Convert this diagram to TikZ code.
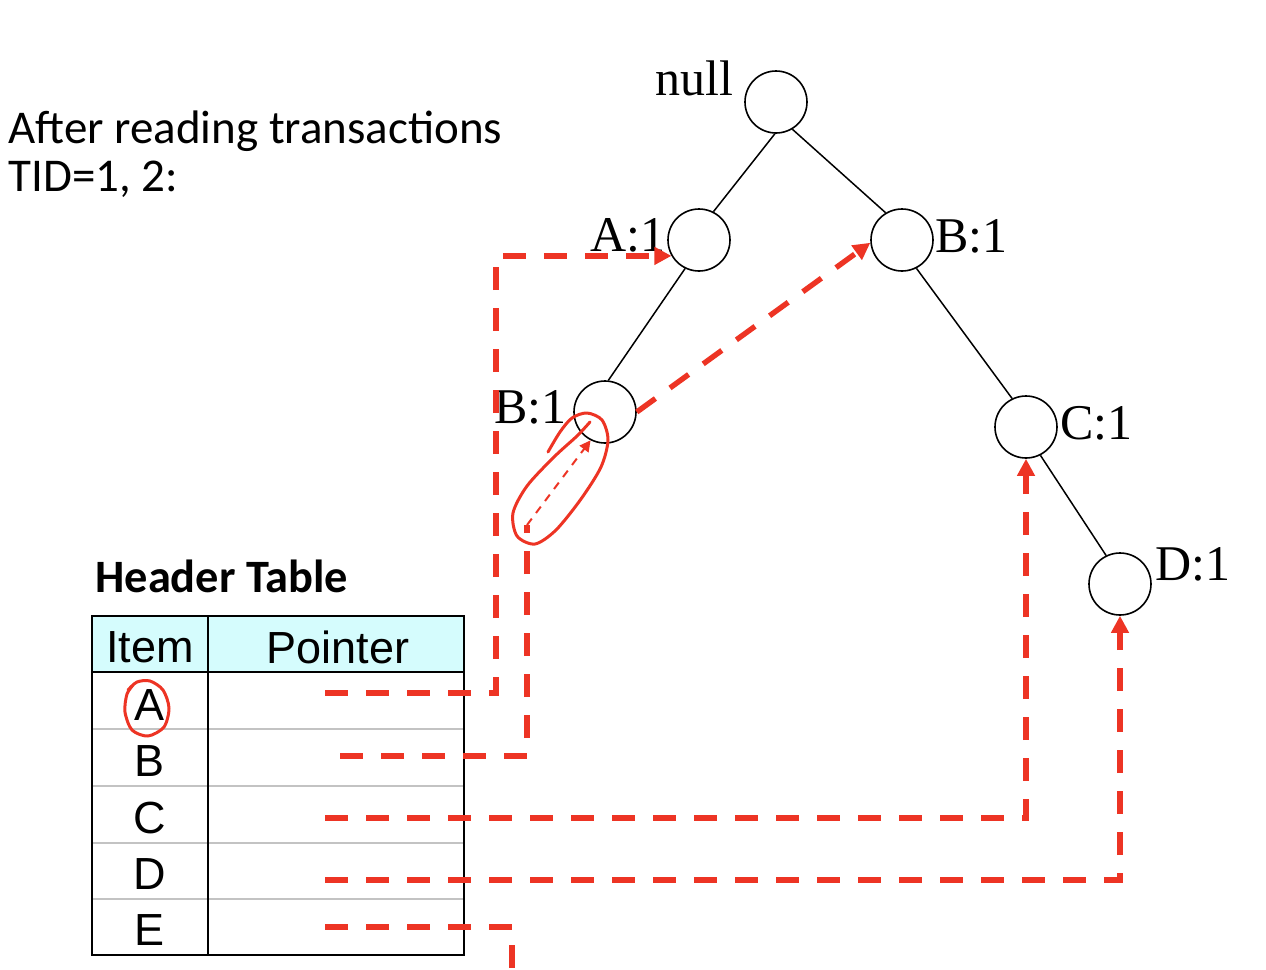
\documentclass[tikz,border=0pt]{standalone}
\usepackage{fontspec}
\setmainfont{Liberation Serif}
\newfontfamily\calibri{Carlito}
\newfontfamily\arialf{Liberation Sans}
\usetikzlibrary{arrows.meta}
\definecolor{ptrred}{RGB}{237,52,36}
\definecolor{hdrcyan}{RGB}{213,252,253}
\definecolor{rowgray}{RGB}{195,195,195}
\begin{document}
\begin{tikzpicture}[x=0.5pt,y=-0.5pt,
  treenode/.style={circle,draw,line width=0.8pt,minimum size=31pt,inner sep=0pt},
  treelabel/.style={font=\fontsize{25}{25}\selectfont,inner sep=0pt},
  treeedge/.style={line width=0.75pt},
  ptrline/.style={draw=ptrred,line width=2.7pt,dash pattern=on 11.5pt off 9pt},
  ptr/.style={ptrline,-{Triangle[length=8.5pt,width=8.5pt,fill=ptrred]}},
  thinptr/.style={draw=ptrred,line width=1pt,dash pattern=on 4pt off 3.5pt,-{Triangle[length=5.5pt,width=5.5pt,fill=ptrred]}},
  annot/.style={draw=ptrred,line width=1.5pt,line cap=round,line join=round},
  tabtext/.style={font=\arialf\fontsize{22.5}{22.5}\selectfont,inner sep=0pt},
  calib/.style={font=\calibri\fontsize{23.5}{24}\selectfont,inner sep=0pt,align=left}
]
\useasboundingbox (0,0) rectangle (1266,970);
\clip (0,0) rectangle (1266,970);

% title text
\node[calib,anchor=base west] (t1) at (8,143) {After reading transactions};
\node[calib,anchor=base west] (t2) at (8,191) {TID=1, 2:};
\node[font=\calibri\bfseries\fontsize{23.2}{23.2}\selectfont,inner sep=0pt,anchor=base west] (ht) at (95,592) {Header Table};

% tree
\node[treenode] (N) at (776,102) {};
\node[treenode] (A) at (699,240) {};
\node[treenode] (B1) at (902,240) {};
\node[treenode] (B2) at (605,412) {};
\node[treenode] (C) at (1026,427) {};
\node[treenode] (D) at (1120,584) {};

\node[treelabel,anchor=base east] (lN) at (734,95) {null};
\node[treelabel,anchor=base east] (lA) at (666,251) {A:1};
\node[treelabel,anchor=base west] (lB1) at (935,252) {B:1};
\node[treelabel,anchor=base east] (lB2) at (567,423) {B:1};
\node[treelabel,anchor=base west] (lC) at (1060,439) {C:1};
\node[treelabel,anchor=base west] (lD) at (1155,580) {D:1};

\draw[treeedge] (N.268) -- (A.63);
\draw[treeedge] (N.301) -- (B1.121);
\draw[treeedge] (A.244) -- (B2.84);
\draw[treeedge] (B1.297) -- (C.116);
\draw[treeedge] (C.297) -- (D.116);

% header table
\fill[hdrcyan] (92,616) rectangle (464,672);
\draw[rowgray,line width=0.8pt] (92,729) -- (464,729) (92,786) -- (464,786) (92,843) -- (464,843) (92,899) -- (464,899);
\draw[line width=1pt] (92,616) rectangle (464,955);
\draw[line width=1pt] (208,616) -- (208,955);
\draw[line width=1pt] (92,672) -- (464,672);

\node[tabtext] (hI) at (150,647) {Item};
\node[tabtext] (hP) at (338,647) {Pointer};
\node[tabtext] (iA) at (150,705) {A};
\node[tabtext] (iB) at (150,761) {B};
\node[tabtext] (iC) at (150,818) {C};
\node[tabtext] (iD) at (150,874) {D};
\node[tabtext] (iE) at (150,930) {E};

% pointers
\coordinate (pA) at (325,693);
\coordinate (cA) at (496,693);
\coordinate (pB) at (340,756);
\coordinate (cB) at (527,756);
\coordinate (bT) at (527,525);
\coordinate (pC) at (325,818);
\coordinate (pD) at (325,880);
\coordinate (pE) at (325,927);
\coordinate (cE) at (512,927);
\coordinate (eE) at (512,990);

\draw[ptr] (pA) -- (cA) |- (A.210);
\draw[ptrline] (pB) -- (cB) -- (bT);
\draw[thinptr] (bT) -- (B2.243);
\draw[ptr] (B2.east) -- (B1.185);
\draw[ptr] (pC) -| (C.south);
\draw[ptr] (pD) -| (D.south);
\draw[ptrline] (pE) -- (cE) -- (eE);

% hand-drawn annotations
\draw[annot] plot[smooth] coordinates {(128,690) (137,682) (150,681) (163,690) (169,708) (164,727) (148,736) (132,730) (125,712) (127,694) (134,684)};
\draw[annot] plot[smooth] coordinates {(548,452) (560,432) (572,418) (587,413) (602,420) (608,440) (601,467) (581,499) (556,530) (535,544) (517,536) (513,513) (527,486) (554,457) (577,436) (590,422)};
\end{tikzpicture}
\end{document}
